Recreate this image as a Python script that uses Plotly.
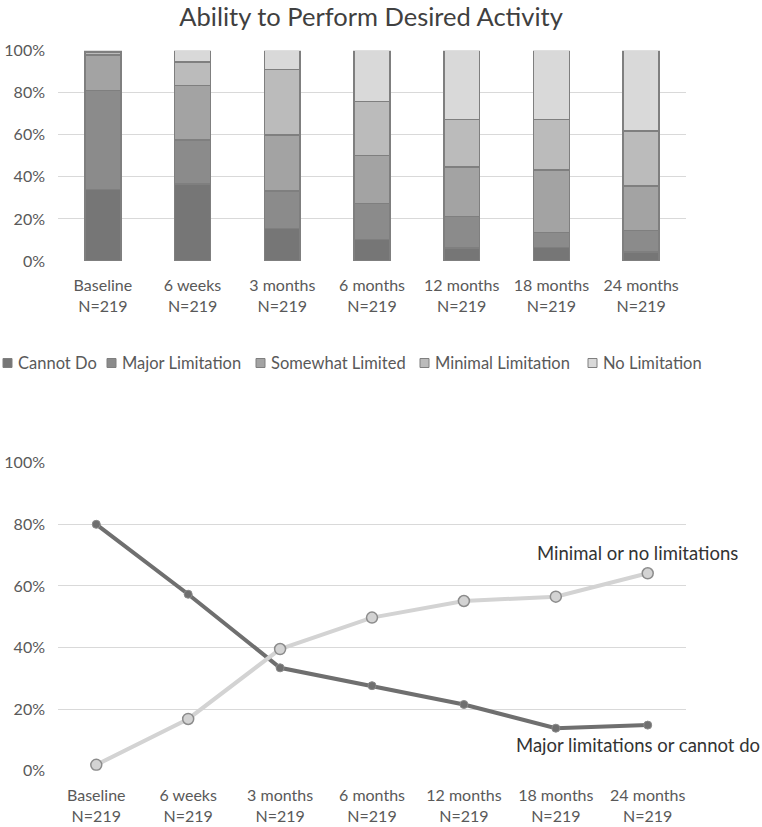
import plotly.graph_objects as go

W, H = 762, 827

categories = ["Baseline<br>N=219", "6 weeks<br>N=219", "3 months<br>N=219", "6 months<br>N=219",
              "12 months<br>N=219", "18 months<br>N=219", "24 months<br>N=219"]

cannot_do = [34.0, 36.6, 15.5, 10.3, 6.3, 6.5, 4.3]
major_limitation = [47.0, 20.9, 17.8, 17.1, 14.8, 7.0, 10.1]
somewhat_limited = [17.0, 25.9, 26.6, 22.7, 23.6, 29.8, 21.3]
minimal_limitation = [1.3, 11.2, 31.2, 25.7, 22.7, 24.1, 26.2]
no_limitation = [0.7, 5.4, 8.9, 24.2, 32.6, 32.6, 38.1]

major_or_cannot = [80.0, 57.3, 33.4, 27.6, 21.5, 13.8, 14.8]
minimal_or_no = [1.9, 16.8, 39.5, 49.7, 55.1, 56.5, 64.1]

series_names = ["Cannot Do", "Major Limitation", "Somewhat Limited", "Minimal Limitation", "No Limitation"]
series_values = [cannot_do, major_limitation, somewhat_limited, minimal_limitation, no_limitation]
series_colors = ["#767676", "#8b8b8b", "#a3a3a3", "#bbbbbb", "#d9d9d9"]

FONT = "Lato"
TICK_COLOR = "#595959"

fig = go.Figure()
for name, vals, col in zip(series_names, series_values, series_colors):
    fig.add_trace(go.Bar(x=categories, y=vals, name=name, marker=dict(color=col, line=dict(color="#7f7f7f", width=1.5)),
                         width=0.4, xaxis="x", yaxis="y", showlegend=False))

fig.add_trace(go.Scatter(x=categories, y=major_or_cannot, mode="lines+markers", xaxis="x2", yaxis="y2",
                         line=dict(color="#6f6f6f", width=4),
                         marker=dict(size=8, color="#6f6f6f", line=dict(color="#8a8a8a", width=1)), showlegend=False))
fig.add_trace(go.Scatter(x=categories, y=minimal_or_no, mode="lines+markers", xaxis="x2", yaxis="y2",
                         line=dict(color="#d3d3d3", width=4),
                         marker=dict(size=11, color="#d3d3d3", line=dict(color="#8c8c8c", width=1.5)), showlegend=False))

xdom = [58 / W, 686 / W]
axis_common = dict(showgrid=True, gridcolor="#d9d9d9", gridwidth=1, zeroline=False, showline=False, automargin=False,
                   tickfont=dict(family=FONT, size=16, color=TICK_COLOR))
xaxis_common = dict(showgrid=False, zeroline=False, showline=False, ticks="", automargin=False,
                    ticklabelstandoff=13, tickfont=dict(family=FONT, size=16, color=TICK_COLOR))

fig.update_layout(
    width=W, height=H, margin=dict(l=0, r=0, t=0, b=0),
    paper_bgcolor="white", plot_bgcolor="white", barmode="stack",
    xaxis=dict(domain=xdom, anchor="y", **xaxis_common),
    yaxis=dict(domain=[1 - 261 / H, 1 - 50.7 / H], anchor="x", range=[0, 100], dtick=20, ticksuffix="%",
               ticks="", ticklabelstandoff=12, **axis_common),
    xaxis2=dict(domain=xdom, anchor="y2", **xaxis_common),
    yaxis2=dict(domain=[1 - 770.7 / H, 1 - 462.7 / H], anchor="x2", range=[0, 100], dtick=20, ticksuffix="%",
                ticks="", ticklabelstandoff=12, **axis_common),
    title=dict(text="Ability to Perform Desired Activity", x=0.487, xanchor="center", y=1 - 17 / H, yanchor="middle",
               font=dict(family=FONT, size=25.5, color="#404040")),
    font=dict(family=FONT),
)

# Manual legend (squares + labels)
legend_sq_x = [3, 107, 256, 420, 588]
legend_y = 363
for name, col, sx in zip(series_names, series_colors, legend_sq_x):
    fig.add_shape(type="rect", xref="paper", yref="paper", x0=sx / W, x1=(sx + 9) / W,
                  y0=1 - (legend_y + 4.5) / H, y1=1 - (legend_y - 4.5) / H,
                  fillcolor=col, line=dict(color="#7f7f7f", width=1))
    fig.add_annotation(xref="paper", yref="paper", x=(sx + 13) / W, y=1 - legend_y / H, xanchor="left", yanchor="middle",
                       text=name, showarrow=False, font=dict(family=FONT, size=16.5, color=TICK_COLOR))

fig.add_annotation(xref="paper", yref="paper", x=637 / W, y=1 - 553 / H, text="Minimal or no limitations",
                   showarrow=False, xanchor="center", yanchor="middle", font=dict(family=FONT, size=18.5, color="#333333"))
fig.add_annotation(xref="paper", yref="paper", x=638 / W, y=1 - 745 / H, text="Major limitations or cannot do",
                   showarrow=False, xanchor="center", yanchor="middle", font=dict(family=FONT, size=18.5, color="#333333"))

fig.write_html("out.html")
